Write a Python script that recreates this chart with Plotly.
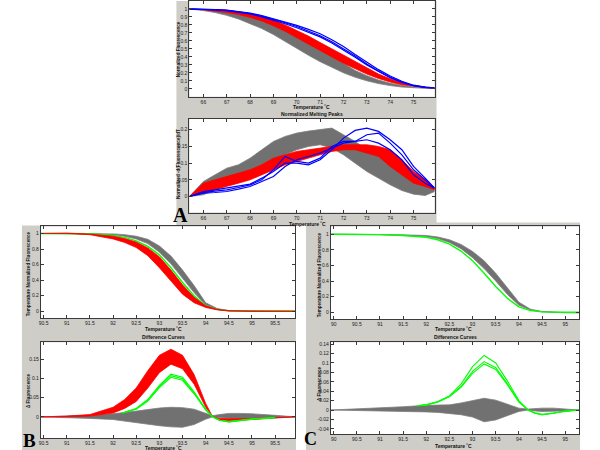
"""Melting curve panels A/B/C rebuilt with plotly."""

import plotly.graph_objects as go

W, H = 600, 450
GRAY = "#717171"
GRAY_EDGE = "#7d7d7d"
RED = "#ff0000"
BLUE = "#0000ff"
GREEN = "#00ff00"
PANEL_BG = "#cfcdc8"
FONT = "Arial, Liberation Sans, sans-serif"

# ---- panel A, top: normalized fluorescence ----
TA = [65.4, 66, 66.5, 67, 67.5, 68, 68.5, 69, 69.5, 70, 70.5, 71, 71.5, 72, 72.5,
      73, 73.5, 74, 74.5, 75, 75.5, 75.9]
A_gray_hi = [1.0, 0.995, 0.985, 0.965, 0.945, 0.915, 0.875, 0.825, 0.76, 0.68, 0.59, 0.50,
             0.40, 0.31, 0.23, 0.165, 0.11, 0.07, 0.04, 0.022, 0.012, 0.01]
A_gray_lo = [1.0, 0.98, 0.955, 0.92, 0.875, 0.82, 0.755, 0.68, 0.60, 0.51, 0.42, 0.34,
             0.265, 0.20, 0.145, 0.10, 0.065, 0.04, 0.022, 0.012, 0.006, 0.005]
A_red_hi = [1.0, 0.995, 0.99, 0.98, 0.965, 0.94, 0.905, 0.86, 0.80, 0.735, 0.66, 0.58,
            0.50, 0.42, 0.335, 0.255, 0.185, 0.125, 0.075, 0.04, 0.02, 0.012]
A_red_lo = [1.0, 0.99, 0.975, 0.955, 0.93, 0.895, 0.85, 0.79, 0.72, 0.645, 0.565, 0.48,
            0.40, 0.32, 0.25, 0.185, 0.13, 0.085, 0.05, 0.028, 0.015, 0.01]
A_blue = [
    [1.0, 0.998, 0.993, 0.985, 0.97, 0.948, 0.918, 0.88, 0.84, 0.795, 0.745, 0.69,
     0.615, 0.53, 0.43, 0.33, 0.24, 0.16, 0.095, 0.045, 0.02, 0.012],
    [1.0, 0.997, 0.991, 0.982, 0.965, 0.942, 0.91, 0.87, 0.828, 0.78, 0.725, 0.665,
     0.59, 0.505, 0.41, 0.31, 0.22, 0.145, 0.085, 0.04, 0.018, 0.012],
    [1.0, 0.997, 0.99, 0.98, 0.962, 0.937, 0.902, 0.86, 0.815, 0.765, 0.71, 0.65,
     0.575, 0.49, 0.395, 0.3, 0.215, 0.14, 0.08, 0.038, 0.017, 0.012],
]

# ---- panel A, bottom: normalized melting peaks ----
A_peak_gray_hi = [0.0, 0.045, 0.065, 0.085, 0.095, 0.115, 0.14, 0.165, 0.18, 0.19, 0.196,
                  0.20, 0.205, 0.185, 0.165, 0.14, 0.12, 0.10, 0.085, 0.065, 0.045, 0.028]
A_peak_gray_lo = [0.0, 0.005, 0.02, 0.035, 0.045, 0.06, 0.08, 0.105, 0.125, 0.14, 0.15,
                  0.155, 0.145, 0.125, 0.10, 0.075, 0.055, 0.035, 0.018, 0.007, 0.003, 0.015]
A_peak_red_hi = [0.0, 0.04, 0.05, 0.06, 0.07, 0.08, 0.095, 0.115, 0.125, 0.135, 0.14, 0.145,
                 0.15, 0.155, 0.155, 0.155, 0.15, 0.14, 0.11, 0.075, 0.05, 0.025]
A_peak_red_lo = [0.0, 0.01, 0.02, 0.03, 0.04, 0.05, 0.065, 0.08, 0.095, 0.105, 0.115, 0.125,
                 0.135, 0.14, 0.14, 0.13, 0.12, 0.09, 0.065, 0.04, 0.03, 0.02]
A_peak_blue = [
    [0.0, 0.015, 0.02, 0.025, 0.03, 0.037, 0.055, 0.075, 0.1, 0.1, 0.095, 0.11, 0.14,
     0.175, 0.198, 0.205, 0.195, 0.17, 0.14, 0.09, 0.055, 0.025],
    [0.0, 0.012, 0.016, 0.02, 0.027, 0.035, 0.05, 0.08, 0.12, 0.105, 0.1, 0.115, 0.15,
     0.165, 0.165, 0.185, 0.19, 0.16, 0.125, 0.08, 0.05, 0.025],
    [0.0, 0.01, 0.012, 0.015, 0.022, 0.03, 0.045, 0.06, 0.09, 0.11, 0.12, 0.13, 0.145,
     0.16, 0.165, 0.17, 0.16, 0.14, 0.11, 0.065, 0.04, 0.025],
]

# ---- panel B, top ----
TB = [90.44, 91, 91.5, 92, 92.25, 92.5, 92.75, 93, 93.25, 93.5, 93.75, 94, 94.25, 94.5,
      95, 95.5, 95.93]
B_gray_hi = [1, 1, 1, 0.995, 0.985, 0.965, 0.925, 0.84, 0.71, 0.53, 0.33, 0.11, 0.035,
             0.01, 0, 0, 0]
B_gray_lo = [1, 1, 0.998, 0.985, 0.965, 0.93, 0.87, 0.76, 0.61, 0.42, 0.24, 0.08, 0.028,
             0.008, 0, 0, 0]
B_green = [1, 1, 0.997, 0.975, 0.95, 0.905, 0.835, 0.725, 0.56, 0.37, 0.2, 0.07, 0.025,
           0.006, 0, 0, 0]
B_red_hi = [1, 1.005, 0.992, 0.965, 0.935, 0.89, 0.815, 0.7, 0.53, 0.34, 0.18, 0.07, 0.024,
            0.007, 0, 0, 0]
B_red_lo = [1, 1, 0.985, 0.93, 0.885, 0.82, 0.715, 0.56, 0.39, 0.22, 0.11, 0.05, 0.018,
            0.004, 0, 0, 0]

# ---- panel B, bottom: difference curves ----
TB2 = [90.44, 91, 91.5, 92, 92.25, 92.5, 92.75, 93, 93.25, 93.5, 93.75, 94, 94.15, 94.3,
       94.5, 94.75, 95, 95.5, 95.93]
B_diff_gray_hi = [0, 0.002, 0.004, 0.008, 0.011, 0.015, 0.019, 0.023, 0.025, 0.024, 0.02,
                  0.01, 0.003, 0.006, 0.009, 0.009, 0.008, 0.004, 0.001]
B_diff_gray_lo = [0, -0.002, -0.004, -0.007, -0.01, -0.014, -0.019, -0.023, -0.026, -0.027,
                  -0.02, -0.006, 0, -0.002, -0.004, -0.004, -0.004, -0.002, 0]
B_diff_red_hi = [0, 0.002, 0.006, 0.025, 0.045, 0.075, 0.12, 0.16, 0.176, 0.16, 0.11, 0.035,
                 0, -0.004, -0.005, -0.005, -0.004, -0.002, 0]
B_diff_red_lo = [0, 0, 0.002, 0.01, 0.022, 0.04, 0.075, 0.115, 0.137, 0.125, 0.085, 0.025,
                 0, -0.008, -0.01, -0.009, -0.007, -0.003, 0]
TB_green = [92.2, 92.5, 92.75, 93, 93.25, 93.5, 93.75, 94, 94.15, 94.3, 94.5, 94.75, 95, 95.5]
B_diff_green = [
    [0.01, 0.022, 0.045, 0.082, 0.111, 0.103, 0.065, 0.02, 0, -0.009, -0.013, -0.01, -0.006, -0.002],
    [0.01, 0.021, 0.043, 0.079, 0.107, 0.099, 0.062, 0.019, 0, -0.009, -0.013, -0.01, -0.006, -0.002],
    [0.01, 0.02, 0.041, 0.076, 0.103, 0.095, 0.06, 0.018, 0, -0.009, -0.012, -0.009, -0.005, -0.002],
]

# ---- panel C, top ----
TC = [89.94, 90.5, 91, 91.5, 92, 92.25, 92.5, 92.75, 93, 93.25, 93.5, 93.75, 94, 94.25,
      94.5, 95, 95.3]
C_gray_hi = [1, 1, 0.998, 0.993, 0.985, 0.965, 0.93, 0.87, 0.78, 0.66, 0.5, 0.32, 0.13,
             0.04, 0.01, -0.004, -0.005]
C_gray_lo = [1, 1, 0.996, 0.987, 0.972, 0.945, 0.895, 0.815, 0.7, 0.56, 0.4, 0.23, 0.09,
             0.03, 0.006, -0.006, -0.006]
C_green = [1, 1, 0.996, 0.985, 0.962, 0.93, 0.875, 0.785, 0.66, 0.5, 0.33, 0.18, 0.07,
           0.022, 0.005, 0, 0]

# ---- panel C, bottom ----
TC2 = [89.94, 90.5, 91, 91.5, 92, 92.25, 92.5, 92.75, 93, 93.25, 93.5, 93.75, 94, 94.2,
       94.35, 94.5, 94.75, 95, 95.3]
C_diff_gray_hi = [0, 0.002, 0.004, 0.007, 0.01, 0.01, 0.011, 0.015, 0.02, 0.025, 0.021,
                  0.012, 0.004, 0.002, 0.003, 0.004, 0.004, 0.002, 0]
C_diff_gray_lo = [0, -0.001, -0.002, -0.003, -0.004, -0.005, -0.007, -0.01, -0.015, -0.025,
                  -0.021, -0.012, -0.003, 0, -0.002, -0.003, -0.003, -0.002, 0]
TC_green = [91.8, 92, 92.25, 92.5, 92.75, 93, 93.25, 93.5, 93.75, 94, 94.2, 94.35, 94.5,
            94.75, 95, 95.3]
C_diff_green = [
    [0.009, 0.011, 0.018, 0.03, 0.055, 0.092, 0.116, 0.1, 0.062, 0.02, 0, -0.007, -0.01, -0.007, -0.002, 0],
    [0.009, 0.011, 0.017, 0.029, 0.05, 0.082, 0.103, 0.09, 0.056, 0.018, 0, -0.007, -0.01, -0.007, -0.002, 0],
    [0.009, 0.011, 0.017, 0.028, 0.048, 0.078, 0.098, 0.086, 0.054, 0.017, 0, -0.006, -0.009, -0.006, -0.002, 0],
]

# tick lists
A_XTICKS = [66, 67, 68, 69, 70, 71, 72, 73, 74, 75]
A_YTICKS_TOP = [0, 0.1, 0.2, 0.3, 0.4, 0.5, 0.6, 0.7, 0.8, 0.9, 1]
A_YTICKS_BOT = [0, 0.05, 0.1, 0.15, 0.2]
B_XTICKS = [90.5, 91, 91.5, 92, 92.5, 93, 93.5, 94, 94.5, 95, 95.5]
C_XTICKS = [90, 90.5, 91, 91.5, 92, 92.5, 93, 93.5, 94, 94.5, 95]
NORM_YTICKS = [0, 0.2, 0.4, 0.6, 0.8, 1]
B_YTICKS_DIFF = [0, 0.05, 0.1, 0.15]
C_YTICKS_DIFF = [-0.04, -0.02, 0, 0.02, 0.04, 0.06, 0.08, 0.1, 0.12, 0.14]


def px_x(x):
    return x / W


def px_y(y):
    return 1 - y / H


# subplot boxes in pixels: (left, top, right, bottom)
BOXES = {
    "1": (188, 0, 434, 96),
    "2": (188, 118, 434, 212),
    "3": (39, 226, 294, 318),
    "4": (39, 342, 294, 438),
    "5": (330, 226, 579, 319),
    "6": (330, 342, 579, 434),
}

fig = go.Figure()


def band(ax, x, lo, hi, color, edge):
    xs = list(x) + list(x)[::-1]
    ys = list(hi) + list(lo)[::-1]
    fig.add_trace(go.Scatter(x=xs, y=ys, fill="toself", fillcolor=color, mode="lines",
                             line=dict(color=edge, width=0.8), xaxis="x" + ax, yaxis="y" + ax,
                             hoverinfo="skip"))


def line(ax, x, y, color, width=1.1):
    fig.add_trace(go.Scatter(x=x, y=y, mode="lines", line=dict(color=color, width=width),
                             xaxis="x" + ax, yaxis="y" + ax))


# A top
band("1", TA, A_gray_lo, A_gray_hi, GRAY, GRAY_EDGE)
band("1", TA, A_red_lo, A_red_hi, RED, RED)
for b in A_blue:
    line("1", TA, b, BLUE, 1.2)
# A bottom
band("2", TA, A_peak_gray_lo, A_peak_gray_hi, GRAY, GRAY_EDGE)
band("2", TA, A_peak_red_lo, A_peak_red_hi, RED, RED)
for b in A_peak_blue:
    line("2", TA, b, BLUE, 1.2)
# B top
band("3", TB, B_gray_lo, B_gray_hi, GRAY, GRAY_EDGE)
line("3", TB, B_green, GREEN, 1.4)
band("3", TB, B_red_lo, B_red_hi, RED, RED)
# B bottom
band("4", TB2, B_diff_gray_lo, B_diff_gray_hi, GRAY, GRAY_EDGE)
band("4", TB2, B_diff_red_lo, B_diff_red_hi, RED, RED)
for g in B_diff_green:
    line("4", TB_green, g, GREEN)
# C top
band("5", TC, C_gray_lo, C_gray_hi, GRAY, GRAY_EDGE)
line("5", TC, C_green, GREEN, 1.4)
# C bottom
band("6", TC2, C_diff_gray_lo, C_diff_gray_hi, GRAY, GRAY_EDGE)
for g in C_diff_green:
    line("6", TC_green, g, GREEN)


def axis_pair(key, xr, yr, xt, yt):
    l, t, r, b = BOXES[key]
    common = dict(showline=True, mirror="ticks", linecolor="#3a3a3a", linewidth=1,
                  ticks="inside", ticklen=3, tickcolor="#3a3a3a", showgrid=False,
                  zeroline=False, tickfont=dict(family=FONT, size=5, color="#222"))
    xa = dict(domain=[px_x(l), px_x(r)], range=xr, anchor="y" + key, tickvals=xt,
              ticktext=[f"{v:g}" for v in xt], **common)
    ya = dict(domain=[px_y(b), px_y(t)], range=yr, anchor="x" + key, tickvals=yt,
              ticktext=[f"{v:g}" for v in yt], **common)
    return xa, ya


axes = {
    "1": axis_pair("1", [65.4, 75.9], [-0.1, 1.1], A_XTICKS, A_YTICKS_TOP),
    "2": axis_pair("2", [65.4, 75.9], [-0.048, 0.233], A_XTICKS, A_YTICKS_BOT),
    "3": axis_pair("3", [90.44, 95.93], [-0.09, 1.09], B_XTICKS, NORM_YTICKS),
    "4": axis_pair("4", [90.44, 95.93], [-0.055, 0.194], B_XTICKS, B_YTICKS_DIFF),
    "5": axis_pair("5", [89.94, 95.3], [-0.09, 1.1], C_XTICKS, NORM_YTICKS),
    "6": axis_pair("6", [89.94, 95.3], [-0.051, 0.144], C_XTICKS, C_YTICKS_DIFF),
}
layout_axes = {}
for k, (xa, ya) in axes.items():
    sfx = "" if k == "1" else k
    layout_axes["xaxis" + sfx] = xa
    layout_axes["yaxis" + sfx] = ya

# gray panel backgrounds, then white plot areas on top of them
shapes = []
for l, t, r, b in [(175, 0, 436, 225), (20, 225, 295, 450), (305, 222, 580, 450)]:
    shapes.append(dict(type="rect", xref="paper", yref="paper", x0=px_x(l), x1=px_x(r),
                       y0=px_y(b), y1=px_y(t), fillcolor=PANEL_BG, line=dict(width=0),
                       layer="below"))
for l, t, r, b in BOXES.values():
    shapes.append(dict(type="rect", xref="paper", yref="paper", x0=px_x(l), x1=px_x(r),
                       y0=px_y(b), y1=px_y(t), fillcolor="white", line=dict(width=0),
                       layer="below"))

annotations = []


def ann(text, x, y, size=5, bold=True, angle=0, family=FONT, color="#111"):
    txt = f"<b>{text}</b>" if bold else text
    annotations.append(dict(text=txt, x=px_x(x), y=px_y(y), xref="paper", yref="paper",
                            showarrow=False, textangle=angle, xanchor="center",
                            yanchor="middle", font=dict(family=family, size=size, color=color)))


ann("Temperature ˚C", 311, 106)
ann("Normalized Melting Peaks", 311, 113.5)
ann("Temperature ˚C", 307, 223)
ann("Temperature ˚C", 162, 329)
ann("Difference Curves", 162, 337)
ann("Temperature ˚C", 162, 447.5)
ann("Temperature ˚C", 453, 329)
ann("Difference Curves", 455, 337)
ann("Temperature ˚C", 453, 446)
ann("Normalized Fluorescence", 177, 48, size=4.6, angle=-90)
ann("Normalized -d(Fluorescence)/dT", 177, 163, size=4.6, angle=-90)
ann("Temperature Normalized Fluorescence", 26, 273, size=4.6, angle=-90)
ann("Δ Fluorescence", 26, 390, size=4.6, angle=-90)
ann("Temperature Normalized Fluorescence", 318, 274, size=4.6, angle=-90)
ann("Δ Fluorescence", 318, 383, size=4.6, angle=-90)
SERIF = "Times New Roman, Liberation Serif, serif"
ann("A", 179, 214, size=20, family=SERIF, color="#000")
ann("B", 28, 440, size=19, family=SERIF, color="#000")
ann("C", 310, 439, size=18, family=SERIF, color="#000")

fig.update_layout(
    width=W, height=H, margin=dict(l=0, r=0, t=0, b=0),
    paper_bgcolor="white", plot_bgcolor="white", showlegend=False,
    shapes=shapes, annotations=annotations, **layout_axes,
)
# the page body has a default 8px margin; drop it so the 600x450 figure fills the window
fig.write_html("out.html", config={"displayModeBar": False},
               post_script="document.body.style.margin='0';")
